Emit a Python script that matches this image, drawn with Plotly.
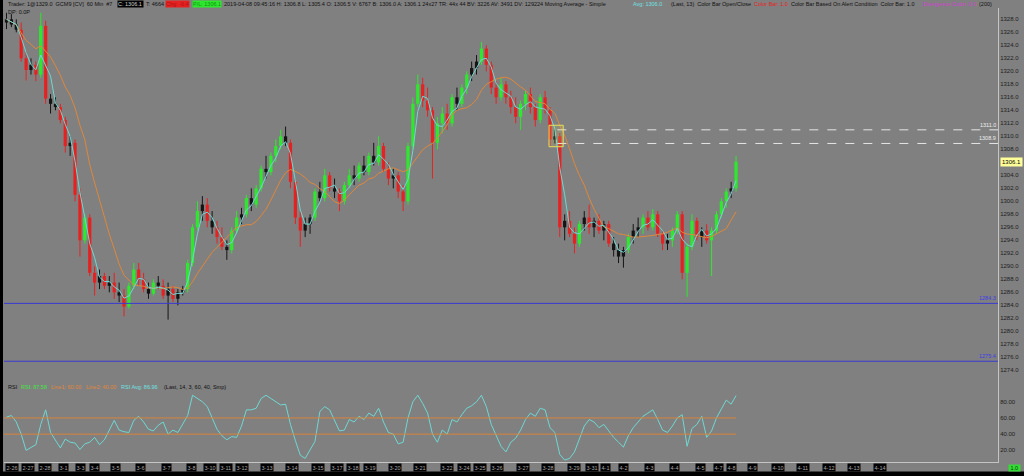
import pandas as pd
import plotly.graph_objects as go

# ---------------- data ----------------
opens = [1327.5,1328.0,1327.2,1326.4,1322.0,1320.2,1321.0,1319.5,1327.0,1315.8,
         1315.0,1314.5,1312.5,1308.5,1309.0,1301.0,1294.0,1297.5,1289.0,1287.5,
         1288.5,1287.0,1287.5,1286.0,1285.5,1283.8,1287.0,1289.5,1288.0,1286.5,
         1285.8,1287.5,1287.0,1285.5,1286.5,1285.0,1286.0,1286.5,1290.5,1296.0,
         1298.5,1299.5,1297.0,1296.0,1294.5,1293.0,1292.5,1295.5,1297.5,1298.0,
         1300.5,1299.5,1302.0,1305.0,1304.5,1307.0,1308.5,1310.0,1309.0,1303.0,
         1297.5,1295.5,1296.5,1297.5,1301.5,1300.5,1304.0,1302.0,1301.5,1300.0,
         1302.5,1304.0,1303.5,1305.5,1304.5,1307.0,1306.0,1308.5,1305.0,1303.5,
         1304.0,1301.5,1300.0,1308.5,1315.0,1318.0,1315.5,1314.0,1309.0,1312.0,
         1313.5,1312.0,1316.0,1315.0,1317.5,1319.5,1320.5,1321.5,1323.5,1321.0,
         1317.5,1316.0,1318.0,1316.0,1314.5,1313.0,1315.0,1316.5,1314.5,1312.5,
         1316.0,1314.0,1309.5,1310.0,1296.0,1297.0,1295.0,1293.5,1296.5,1297.5,
         1296.0,1297.0,1295.5,1296.5,1293.5,1292.5,1291.5,1292.5,1294.5,1295.5,
         1296.0,1297.5,1296.0,1298.0,1295.0,1293.5,1294.0,1295.5,1298.0,1289.0,
         1293.0,1297.0,1294.5,1295.5,1294.0,1295.5,1298.0,1300.0,1301.5,1302.0]
highs = [1329.0,1328.8,1328.0,1327.5,1323.0,1322.0,1321.5,1329.0,1327.8,1316.5,
         1316.0,1315.0,1313.0,1310.0,1309.5,1302.0,1298.0,1298.0,1290.0,1289.5,
         1289.0,1288.5,1289.0,1287.5,1286.5,1287.5,1290.5,1290.5,1289.0,1287.5,
         1288.0,1288.5,1288.0,1287.5,1287.0,1286.5,1287.0,1291.0,1296.5,1300.0,
         1300.8,1300.5,1298.5,1297.0,1296.0,1294.0,1296.0,1298.5,1299.0,1301.0,
         1302.0,1302.5,1305.5,1307.0,1307.5,1309.5,1311.0,1311.5,1309.5,1303.5,
         1298.5,1297.5,1298.0,1302.0,1303.0,1305.0,1304.5,1303.5,1302.0,1303.0,
         1305.0,1305.5,1306.0,1307.0,1307.5,1309.0,1310.0,1309.0,1306.0,1305.0,
         1304.5,1302.5,1309.0,1316.0,1319.5,1319.0,1317.5,1314.5,1313.0,1314.5,
         1315.0,1316.5,1317.5,1318.0,1320.0,1321.5,1322.5,1324.5,1324.0,1321.5,
         1318.5,1319.0,1318.5,1317.0,1316.0,1315.5,1317.0,1317.5,1315.0,1316.5,
         1317.0,1314.5,1311.0,1310.5,1298.0,1298.5,1296.0,1297.0,1298.5,1299.5,
         1297.5,1298.0,1297.0,1297.0,1294.5,1293.5,1293.0,1295.0,1296.5,1297.5,
         1298.0,1298.5,1298.8,1298.5,1295.5,1295.0,1296.0,1298.5,1298.5,1293.5,
         1298.0,1297.5,1296.0,1296.5,1296.0,1298.5,1300.5,1302.0,1303.0,1307.0]
lows = [1326.5,1326.8,1326.0,1321.5,1318.6,1319.5,1318.5,1319.0,1315.0,1313.5,
        1314.0,1312.0,1307.5,1307.0,1300.0,1291.5,1293.5,1288.5,1285.5,1286.5,
        1286.5,1286.0,1285.0,1284.5,1282.3,1283.5,1286.5,1287.0,1286.0,1285.0,
        1285.5,1286.5,1285.0,1281.8,1284.5,1284.0,1285.5,1286.0,1290.0,1295.5,
        1297.0,1296.0,1295.0,1293.5,1292.5,1291.0,1292.0,1295.0,1296.5,1297.5,
        1298.5,1299.0,1301.5,1303.5,1304.0,1306.0,1308.0,1308.5,1302.0,1296.5,
        1293.0,1294.5,1295.0,1297.0,1300.0,1300.0,1301.5,1300.5,1298.5,1299.5,
        1302.0,1302.5,1303.0,1304.0,1304.0,1305.5,1305.5,1304.5,1302.5,1302.0,
        1300.5,1298.5,1299.5,1308.0,1314.5,1314.5,1313.0,1303.5,1308.0,1310.5,
        1311.0,1311.5,1314.0,1314.5,1316.5,1318.5,1319.5,1321.0,1320.0,1316.5,
        1315.0,1315.5,1315.0,1313.5,1312.0,1311.0,1314.0,1313.5,1311.5,1312.0,
        1313.5,1308.5,1308.9,1294.5,1294.0,1294.5,1292.0,1293.0,1295.5,1295.0,
        1294.5,1295.0,1294.0,1293.0,1291.5,1290.5,1289.8,1292.0,1293.5,1294.5,
        1295.0,1295.5,1295.5,1294.5,1292.5,1292.5,1293.0,1295.0,1288.0,1285.3,
        1292.5,1294.0,1293.0,1293.5,1288.5,1295.0,1297.5,1299.0,1300.5,1301.5]
closes = [1328.0,1327.2,1326.4,1322.0,1320.2,1321.0,1319.5,1327.0,1315.8,1315.0,
          1314.5,1312.5,1308.5,1309.0,1301.0,1294.0,1297.5,1289.0,1287.5,1288.5,
          1287.0,1287.5,1286.0,1285.5,1283.8,1287.0,1289.5,1288.0,1286.5,1285.8,
          1287.5,1287.0,1285.5,1286.5,1285.0,1286.0,1286.5,1290.5,1296.0,1298.5,
          1299.5,1297.0,1296.0,1294.5,1293.0,1292.5,1295.5,1297.5,1298.0,1300.5,
          1299.5,1302.0,1305.0,1304.5,1307.0,1308.5,1310.0,1309.0,1303.0,1297.5,
          1295.5,1296.5,1297.5,1301.5,1300.5,1304.0,1302.0,1301.5,1300.0,1302.5,
          1304.0,1303.5,1305.5,1304.5,1307.0,1306.0,1308.5,1305.0,1303.5,1304.0,
          1301.5,1300.0,1308.5,1315.0,1318.0,1315.5,1314.0,1309.0,1312.0,1313.5,
          1312.0,1316.0,1315.0,1317.5,1319.5,1320.5,1321.5,1323.5,1321.0,1317.5,
          1316.0,1318.0,1316.0,1314.5,1313.0,1315.0,1316.5,1314.5,1312.5,1316.0,
          1314.0,1309.5,1310.0,1296.0,1297.0,1295.0,1293.5,1296.5,1297.5,1296.0,
          1297.0,1295.5,1296.5,1293.5,1292.5,1291.5,1292.5,1294.5,1295.5,1296.0,
          1297.5,1296.0,1298.0,1295.0,1293.5,1294.0,1295.5,1298.0,1289.0,1293.0,
          1297.0,1294.5,1295.5,1294.0,1295.5,1298.0,1300.0,1301.5,1302.0,1306.1]
rsi_values = [61,63,55,40,20,23,27,52,70,42,
              32,23,34,30,29,21,28,30,36,27,
              33,45,57,45,43,42,57,62,55,46,
              44,51,55,40,45,42,52,63,88,84,
              80,74,60,46,38,33,37,36,50,70,
              70,72,84,88,84,80,76,77,52,32,
              14,10,20,31,68,74,70,58,44,45,
              58,55,62,58,66,62,72,55,42,40,
              28,30,60,80,88,78,66,40,30,45,
              40,58,55,64,72,75,80,88,74,52,
              38,25,18,30,35,45,58,66,62,72,
              70,48,42,15,8,10,18,35,50,58,
              55,48,52,44,36,30,24,38,48,55,
              62,66,70,58,45,42,50,60,64,25,
              47,52,62,36,44,60,72,82,77,87.58]
date_labels = ["2-26","2-27","2-28","3-1","3-3","3-4","3-5","3-6","3-7","3-8",
               "3-10","3-11","3-12","3-13","3-14","3-15","3-17","3-18","3-19","3-20",
               "3-21","3-22","3-24","3-25","3-26","3-27","3-28","3-29","3-31","4-1",
               "4-2","4-3","4-4","4-5","4-7","4-8","4-9","4-10","4-11","4-12",
               "4-13","4-14"]
date_ticks = [1.1,4.4,7.9,11.7,15.1,17.9,22.2,27.3,32.6,37.8,
              41.5,44.8,48.1,53.3,58.4,63.6,67.4,70.8,74.2,79.3,
              84.5,89.9,93.4,96.7,100.2,105.4,110.6,115.9,119.6,122.4,
              126.1,131.4,136.5,141.8,145.5,148.1,152.3,157.5,162.7,167.9,
              173.1,178.4]
support_levels = [1284.3, 1275.4]
zone_levels = [1311.0, 1308.9]
zone_start_bar = 112.5
box_bars = [110.8, 113.7]
last_price = 1306.1
rsi_lines = [60, 40]
rsi_last, rsi_avg_last = 87.58, 86.96
ma_fast_len, ma_slow_len = 3, 10

# ---------------- layout geometry ----------------
W, H = 1024, 476
ML, MR, MT, MB = 4, 26, 8, 14
PW, PH = W - ML - MR, H - MT - MB
XMIN, XMAX = -0.51, 202.5
PRICE_RANGE = [1272.82, 1329.74]
RSI_RANGE = [5.6, 109.3]
SPLIT = 0.185


def px(xp):
    return (xp - ML) / PW


def py(yp):
    return (H - MB - yp) / PH


BG = "#808080"
GREEN, RED, BLACK = "#2ee82e", "#e52222", "#151515"
CYAN, ORANGE = "#6fd8d2", "#e0873a"
FONT = "Liberation Sans"

n = len(closes)
xs = list(range(n))

fig = go.Figure()

# candles grouped by colour
groups = {GREEN: [], RED: [], BLACK: []}
for i in xs:
    o, c = opens[i], closes[i]
    if abs(c - o) <= 1.0:
        groups[BLACK].append(i)
    elif c > o:
        groups[GREEN].append(i)
    else:
        groups[RED].append(i)

for col, idx in groups.items():
    wx, wy = [], []
    for i in idx:
        wx += [i, i, None]
        wy += [lows[i], highs[i], None]
    fig.add_trace(go.Scatter(x=wx, y=wy, mode="lines", line=dict(color=col, width=1),
                             hoverinfo="skip", showlegend=False, yaxis="y"))
for col, idx in groups.items():
    fig.add_trace(go.Bar(
        x=idx,
        y=[max(abs(closes[i] - opens[i]), 0.2) for i in idx],
        base=[min(opens[i], closes[i]) for i in idx],
        width=0.66, marker=dict(color=col, line=dict(width=0)),
        showlegend=False, yaxis="y"))

s = pd.Series(closes)
ma_fast = s.rolling(ma_fast_len, min_periods=1).mean()
ma_slow = s.rolling(ma_slow_len, min_periods=1).mean()
fig.add_trace(go.Scatter(x=xs, y=ma_slow, mode="lines", line=dict(color=ORANGE, width=1),
                         showlegend=False, yaxis="y"))
fig.add_trace(go.Scatter(x=xs, y=ma_fast, mode="lines", line=dict(color=CYAN, width=1),
                         showlegend=False, yaxis="y"))

# RSI
fig.add_trace(go.Scatter(x=xs, y=rsi_values, mode="lines", line=dict(color=CYAN, width=1),
                         showlegend=False, yaxis="y2"))

shapes = []
for lv in rsi_lines:
    shapes.append(dict(type="line", xref="x", yref="y2", x0=XMIN, x1=n - 1, y0=lv, y1=lv,
                       line=dict(color="#d8843c", width=1)))
for lv in support_levels:
    shapes.append(dict(type="line", xref="x", yref="y", x0=XMIN, x1=XMAX, y0=lv, y1=lv,
                       line=dict(color="#3a3ad0", width=1)))
for lv in zone_levels:
    shapes.append(dict(type="line", xref="x", yref="y", x0=zone_start_bar, x1=XMAX, y0=lv, y1=lv,
                       line=dict(color="#e4e4e4", width=1, dash="dash")))
shapes.append(dict(type="rect", xref="x", yref="y", x0=box_bars[0], x1=box_bars[1],
                   y0=zone_levels[1] - 0.5, y1=zone_levels[0] + 0.7,
                   line=dict(color="#e6e05a", width=1), fillcolor="rgba(230,224,90,0.15)"))
# frame strips
shapes.append(dict(type="rect", xref="paper", yref="paper", x0=px(-2), x1=px(W + 2),
                   y0=py(H + 2), y1=py(471.5), fillcolor="#000000", line=dict(width=0)))
shapes.append(dict(type="rect", xref="paper", yref="paper", x0=px(-2), x1=px(3),
                   y0=py(H + 2), y1=py(-2), fillcolor="#000000", line=dict(width=0)))

ann = []


def text(xp, yp, t, color="#111111", size=5.5, bg=None, anchor="left", border=None):
    d = dict(xref="paper", yref="paper", x=px(xp), y=py(yp), text=t, showarrow=False,
             xanchor=anchor, yanchor="middle", font=dict(family=FONT, size=size, color=color),
             borderpad=0)
    if bg:
        d["bgcolor"] = bg
    if border:
        d["bordercolor"] = border
        d["borderwidth"] = 1
    ann.append(d)


# header
text(7, 4, "Trader: 1@1329.0  GCM9 [CV]  60 Min  #7")
text(117, 4, "C: 1306.1 ", color="#d0d0d0", bg="#000000")
text(145, 4, "T: 4664")
text(165, 4, "Chg: -0.4", color="#b01010", bg="#e52222")
text(192, 4, "P/L: 1306.1", color="#109010", bg="#2ee82e")
text(223, 4, "2019-04-08 09:45:16 H: 1306.8 L: 1305.4 O: 1306.5 V: 6767 B: 1306.0 A: 1306.1 24x27 TR: 44x 44 "
             "BV: 3226 AV: 3491 DV: 129224 Moving Average - Simple")
text(632, 4, "Avg: 1306.0", color="#6fe0e0")
text(670, 4, "(Last, 13)  Color Bar Open/Close")
text(753, 4, "Color Bar: 1.0", color="#e52222")
text(790, 4, "Color Bar Based On Alert Condition  Color Bar: 1.0")
text(922, 4, "Divergence Color: 0.0", color="#d040d0")
text(978, 4, "(200)")
text(7, 12, "DP: 0.0P")

# RSI header
text(7, 386.7, "RSI")
text(20, 386.7, f"RSI: {rsi_last:.2f}", color="#3ee83e")
text(50, 386.7, f"Line1: {rsi_lines[0]:.2f}", color="#e0873a")
text(85, 386.7, f"Line2: {rsi_lines[1]:.2f}", color="#e0873a")
text(120, 386.7, f"RSI Avg: {rsi_avg_last:.2f}", color="#6fe0e0")
text(163, 386.7, "(Last, 14, 3, 60, 40, Smp)")

# level labels
for lv in support_levels:
    ann.append(dict(xref="paper", yref="y", x=1, y=lv, text=f"{lv:.1f}", showarrow=False,
                    xanchor="right", yanchor="bottom", font=dict(family=FONT, size=5.5, color="#3c3ce6")))
for lv in zone_levels:
    ann.append(dict(xref="paper", yref="y", x=1, y=lv, text=f"{lv:.1f}", showarrow=False,
                    xanchor="right", yanchor="bottom", font=dict(family=FONT, size=5.5, color="#eeeeee")))
ann.append(dict(xref="paper", yref="y", x=px(1000), y=last_price, text=f"{last_price:.1f}",
                showarrow=False, xanchor="left", yanchor="middle", bgcolor="#ffff9a",
                font=dict(family=FONT, size=6, color="#000000"), borderpad=1))

# date labels
for lab, tx in zip(date_labels, date_ticks):
    ann.append(dict(xref="x", yref="paper", x=tx, y=py(467.5), text=lab, showarrow=False,
                    xanchor="center", yanchor="middle", bgcolor="#000000", borderpad=0.5,
                    font=dict(family=FONT, size=5.5, color="#a8a8a8")))
text(1008, 468, " 1.0 ", color="#104010", bg="#33dd33")

fig.update_layout(
    width=W, height=H, margin=dict(l=ML, r=MR, t=MT, b=MB),
    paper_bgcolor=BG, plot_bgcolor=BG, barmode="overlay", showlegend=False,
    hovermode=False,
    xaxis=dict(domain=[0, 1], range=[XMIN, XMAX], anchor="y2", showticklabels=False,
               showgrid=False, zeroline=False, showline=True, linecolor="#c4c4c4",
               linewidth=1, ticks=""),
    yaxis=dict(domain=[SPLIT, 1], range=PRICE_RANGE, anchor="x", side="right",
               tickmode="linear", tick0=1274, dtick=2, tickformat=".1f",
               tickfont=dict(family=FONT, size=6, color="#202020"),
               showgrid=False, zeroline=False, showline=True, linecolor="#c4c4c4", ticks="",
               automargin=False),
    yaxis2=dict(domain=[0, SPLIT], range=RSI_RANGE, anchor="x", side="right",
                tickvals=[20, 40, 60, 80], tickformat=".2f",
                tickfont=dict(family=FONT, size=6, color="#202020"),
                showgrid=False, zeroline=False, showline=True, linecolor="#c4c4c4", ticks="",
                automargin=False),
    shapes=shapes, annotations=ann,
)

fig.write_html("out.html", config={"displayModeBar": False},
               post_script="document.body.style.margin='0';document.body.style.background='#808080';")
